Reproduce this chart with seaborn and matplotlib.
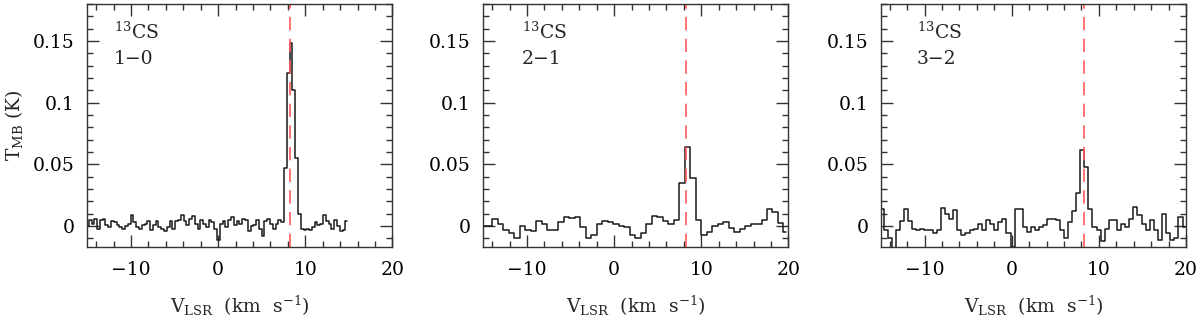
import numpy as np
import matplotlib
matplotlib.use("Agg")
import matplotlib.pyplot as plt
import seaborn as sns
from matplotlib.ticker import MultipleLocator, FuncFormatter

# 13CS 1-0 : first channel centre, channel width (km/s), T_MB (K)
v0_10, dv_10 = -15.0, 0.32
tmb_10 = [0.0, 0.005, 0.002, 0.006, -0.002, 0.005, 0.006, 0.001, -0.001, 0.004,
          0.003, 0.001, -0.001, -0.002, 0.000, 0.002, 0.009, 0.003, -0.001, -0.002,
          0.001, 0.002, 0.004, -0.003, 0.001, 0.004, -0.001, -0.002, -0.004, -0.001,
          0.004, -0.002, 0.004, 0.005, 0.009, 0.004, 0.001, 0.006, 0.008, 0.002,
          -0.002, 0.005, 0.002, -0.001, 0.005, 0.003, -0.002, -0.011,
          0.002, 0.004, -0.001, 0.005, 0.007, 0.001, 0.004, 0.002, 0.006, 0.005,
          -0.004, 0.000, 0.001, 0.005, -0.002, -0.008, 0.004, 0.006, 0.002, -0.002,
          0.002, 0.005, 0.003,
          0.047, 0.124, 0.148, 0.110, 0.055, 0.010,
          -0.002, -0.003, -0.002, -0.003, -0.001, 0.003, 0.001, 0.002, 0.009, 0.004,
          0.002, -0.002, 0.005, 0.000, -0.004, -0.003, 0.004]

# 13CS 2-1
v0_21, dv_21 = -14.9, 0.63
tmb_21 = [0.0, 0.0, 0.006, 0.002, -0.003, -0.006, -0.010, 0.0, -0.003, -0.004,
          0.004, 0.002, -0.003, -0.003, 0.0035, 0.007, 0.0065, 0.007, -0.0005, -0.0095,
          -0.007, 0.0016, 0.004, 0.0035, 0.002, 0.0, -0.0005, -0.007, -0.010, -0.006,
          0.0016, 0.008, 0.0076, 0.004, 0.002, 0.005, 0.035, 0.064, 0.039, 0.005,
          -0.007, -0.0046, 0.0, 0.0016, 0.003, -0.0014, -0.0046, -0.002, 0.0, 0.002,
          0.0016, 0.005, 0.0135, 0.0117, 0.0027, -0.005]

# 13CS 3-2
v0_32, dv_32 = -14.95, 0.47
tmb_32 = [0.0135, -0.003, -0.010, -0.018, -0.003, 0.004, 0.014, 0.004, -0.002, -0.003,
          -0.002, -0.003, -0.003, -0.006, -0.003, 0.015, 0.010, 0.006, 0.013, -0.003,
          -0.007, -0.006, -0.003, -0.002, 0.0016, -0.003, 0.005, 0.0016, -0.003, 0.0035,
          0.006, -0.006, -0.017, 0.0135, 0.0135, -0.0005, -0.0046, -0.0005, -0.003, -0.0005,
          0.001, 0.006, 0.0054, 0.005, -0.003, -0.010, 0.0035, 0.012, 0.027, 0.062,
          0.048, 0.014, -0.0005, -0.003, -0.012, -0.002, 0.005, 0.005, -0.003, 0.0016,
          -0.0005, 0.006, 0.0157, 0.009, 0.002, -0.003, 0.005, -0.003, -0.011, 0.010,
          -0.006, -0.011, -0.010, 0.007, -0.0005]

transitions = ["1\u22120", "2\u22121", "3\u22122"]
v_sys = 8.3

spectra = [(v0_10, dv_10, tmb_10), (v0_21, dv_21, tmb_21), (v0_32, dv_32, tmb_32)]
lefts = [0.0728, 0.4028, 0.7342]
label_x = [-12.0, -10.6, -10.9]

sns.set_theme(style="ticks")
plt.rcParams["font.family"] = ["DejaVu Serif"]
plt.rcParams["mathtext.fontset"] = "dejavuserif"

fig = plt.figure(figsize=(12, 3.26), dpi=100)

fmt_x = FuncFormatter(lambda v, p: f"{v:g}".replace("-", "\u2212"))
fmt_y = FuncFormatter(lambda v, p: f"{v:g}")
fs = 13.5

for i, (v0, dv, tmb) in enumerate(spectra):
    ax = fig.add_axes([lefts[i], 0.2423, 0.2542, 0.7454])
    vel = v0 + dv * np.arange(len(tmb))
    sns.lineplot(x=vel, y=tmb, ax=ax, color="#1a1a1a", lw=1.1,
                 drawstyle="steps-mid", errorbar=None)
    ax.axvline(v_sys, color="#ff5a5a", lw=1.2, dashes=(8, 5))

    ax.set_xlim(-15, 20)
    ax.set_ylim(-0.017, 0.18)
    ax.xaxis.set_major_locator(MultipleLocator(10))
    ax.xaxis.set_minor_locator(MultipleLocator(2))
    ax.yaxis.set_major_locator(MultipleLocator(0.05))
    ax.yaxis.set_minor_locator(MultipleLocator(0.01))
    ax.xaxis.set_major_formatter(fmt_x)
    ax.yaxis.set_major_formatter(fmt_y)
    ax.tick_params(which="both", direction="in", top=True, right=True,
                   colors="#333333", labelcolor="black", labelsize=fs, width=1.0)
    ax.tick_params(which="major", length=8.5)
    ax.tick_params(which="minor", length=4.3)
    ax.tick_params(axis="x", pad=10)
    ax.tick_params(axis="y", pad=9)
    for s in ax.spines.values():
        s.set_linewidth(1.0)
        s.set_color("#333333")

    ax.text(label_x[i], 0.152, r"$^{13}$CS", fontsize=fs, va="baseline")
    ax.text(label_x[i], 0.131, transitions[i], fontsize=fs, va="baseline")

    ax.set_xlabel(r"V$_{\rm LSR}$  (km  s$^{-1}$)", fontsize=fs, labelpad=11)
    if i == 0:
        ax.set_ylabel(r"T$_{\rm MB}$ (K)", fontsize=fs, labelpad=6)
    else:
        ax.set_ylabel("")

fig.savefig("out.png", dpi=100)
